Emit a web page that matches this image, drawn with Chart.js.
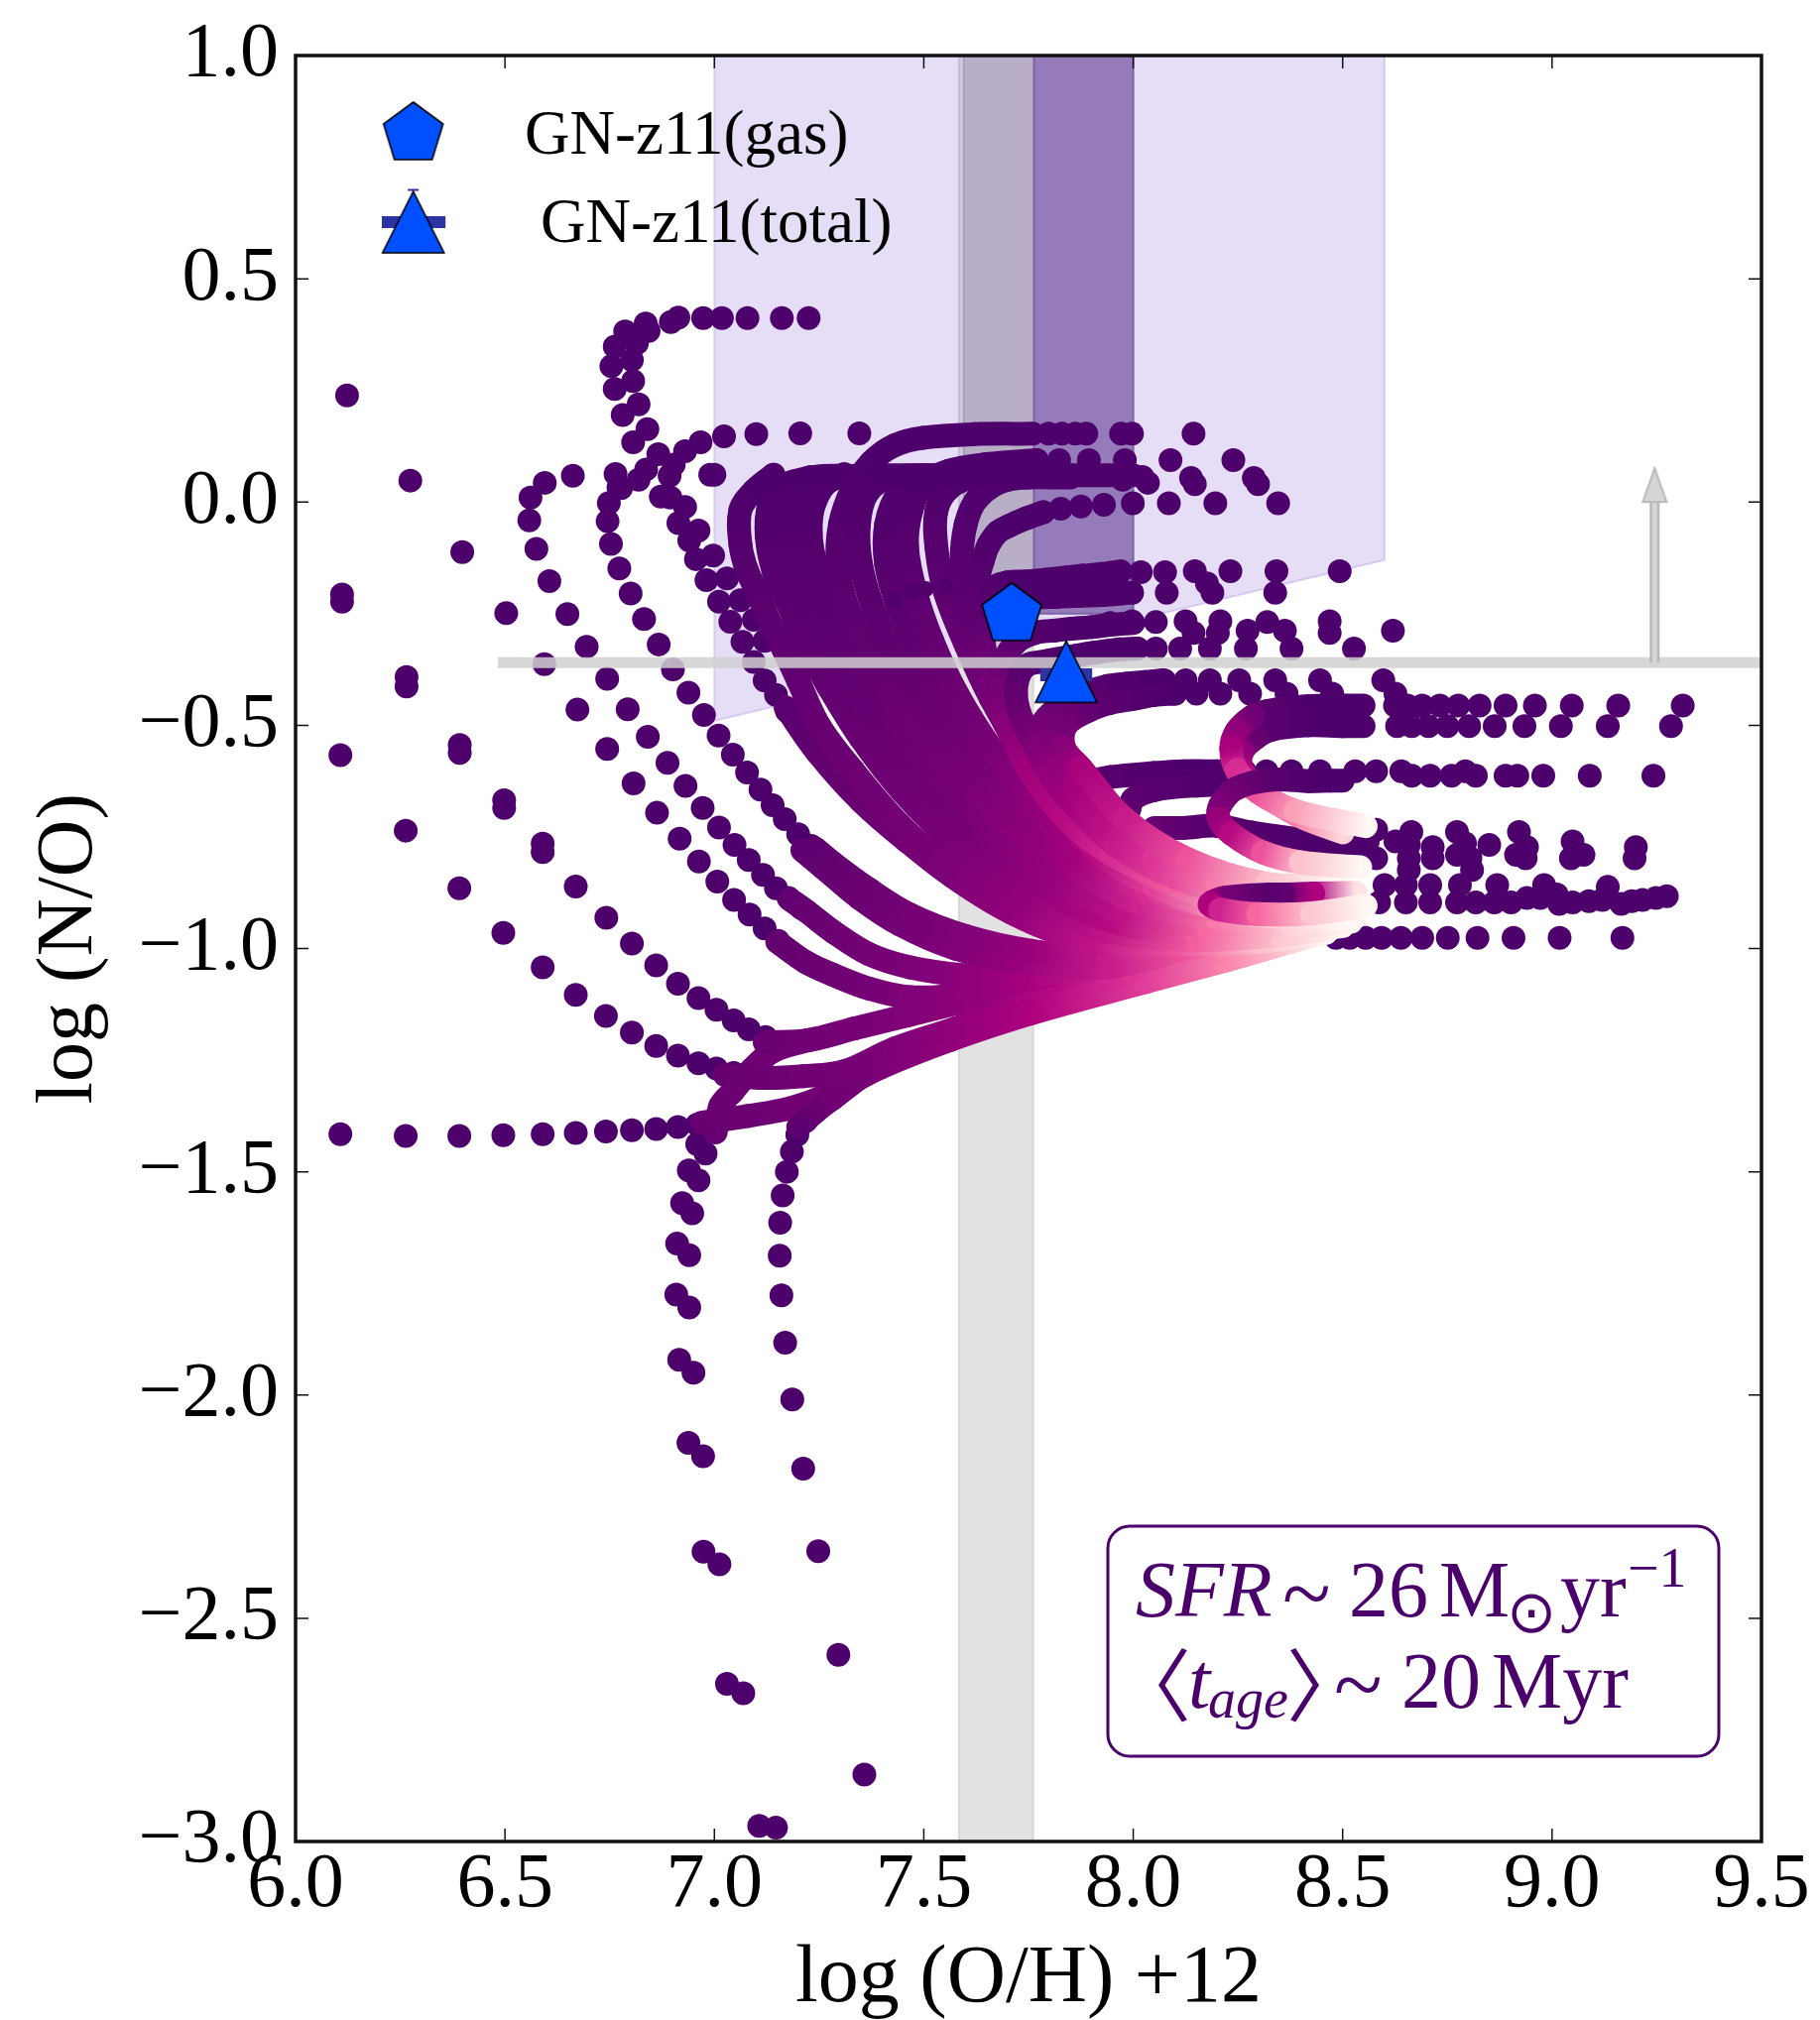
<!DOCTYPE html>
<html>
<head>
<meta charset="utf-8">
<title>log (N/O) vs log (O/H)</title>
<script src="https://cdn.jsdelivr.net/npm/chart.js@4/dist/chart.umd.min.js"></script>
<style>
  html, body { margin: 0; padding: 0; background: #fff; }
  canvas { display: block; }
</style>
</head>
<body>
<canvas id="abundanceChart" width="1835" height="2037"></canvas>
<script>
    // Tick labels
    const xTicks = [6.0, 6.5, 7.0, 7.5, 8.0, 8.5, 9.0, 9.5];
    const yTicks = [-3.0, -2.5, -2.0, -1.5, -1.0, -0.5, 0.0, 0.5, 1.0];

    // Separate model outputs
    const dotX = [
        7.225, 7.161, 7.079, 7.018, 6.973, 6.914, 6.896, 6.843, 6.836, 6.787, 6.815, 6.762, 6.803, 6.754, 6.806, 6.762, 6.819, 6.781, 6.840, 6.806, 6.866, 6.837, 6.819, 6.777,
        6.123, 6.274, 6.398, 6.111, 6.111, 6.503, 6.265, 6.265, 6.107, 6.392, 6.392, 6.263, 6.498, 6.498, 6.590, 6.590,
        6.662, 6.595, 6.561, 6.558, 6.575, 6.606, 6.649, 6.695, 6.744, 6.793, 6.841, 6.888, 6.931, 6.972, 7.011, 7.048, 7.082, 7.116, 7.147, 7.177, 7.207,
        6.594, 6.673, 6.744, 6.807, 6.863, 6.917, 6.963, 7.007, 7.047, 7.084, 7.120, 7.152,
        6.764, 6.771, 6.748, 6.745, 6.753, 6.773, 6.800, 6.832, 6.867, 6.901, 6.938, 6.975, 7.010, 7.044, 7.078, 7.110, 7.139, 7.168, 7.200, 7.231, 7.267,
        7.346, 7.205, 7.100, 7.023, 6.967, 6.930, 6.903, 6.893, 6.872, 6.895, 6.930, 6.914, 6.962, 6.940, 6.997, 6.956, 7.030, 6.981, 7.062, 7.011, 7.094, 7.038, 7.120, 7.067, 7.094, 7.120, 7.147, 7.173,
        6.990, 7.000, 7.141, 7.231, 7.310,
        6.107, 6.263, 6.391, 6.496, 6.590, 6.669, 6.741, 6.803, 6.861, 6.913, 6.959, 7.007,
        6.391, 6.496, 6.590, 6.669, 6.741, 6.803, 6.861, 6.913, 6.962, 7.005, 7.046,
        6.669, 6.742, 6.803, 6.861, 6.913, 6.962, 7.005, 7.046, 7.082, 7.122,
        7.219, 7.198, 7.185, 7.173, 7.163, 7.157, 7.156, 7.160, 7.169, 7.186, 7.212, 7.248, 7.296, 7.358,
        6.959, 6.979, 6.939, 6.962, 6.923, 6.947, 6.911, 6.940, 6.909, 6.940, 6.916, 6.950, 6.938, 6.973, 6.974, 7.012, 7.030, 7.069, 7.107, 7.147,
        8.144, 7.997, 7.971, 7.888, 7.862, 7.830, 7.798,
        8.239, 8.089, 7.980, 7.894, 7.823, 7.769,
        8.288, 8.298, 8.138, 8.147, 8.022, 8.035, 7.975,
        8.346, 8.196, 8.085, 7.999, 7.930, 7.875, 7.827, 7.785,
        8.493, 8.342, 8.232, 8.147, 8.076, 8.018, 8.339, 8.189, 8.176, 8.080, 7.997, 7.926, 7.871,
        8.620, 8.469, 8.469, 8.320, 8.362, 8.208, 8.202, 8.273, 8.125, 8.144, 8.054, 7.997, 7.945,
        8.527, 8.378, 8.269, 8.183, 8.112, 8.054, 8.010,
        8.597, 8.446, 8.339, 8.253, 8.183, 8.125, 8.074,
        8.626, 8.475, 8.366, 8.279, 8.208, 8.151, 8.100,
        9.312, 9.158, 9.047, 8.959, 8.889, 8.827, 8.776, 8.732, 8.690, 8.655, 8.625,
        9.284, 9.133, 9.021, 8.934, 8.863, 8.802, 8.750, 8.705, 8.665, 8.630,
        9.242, 9.090, 8.979, 8.917, 8.889, 8.818, 8.793, 8.760, 8.709, 8.665, 8.640, 8.580, 8.530, 8.446, 8.378, 8.318, 8.266,
        9.200, 9.197, 9.049, 9.075, 9.045, 8.921, 8.940, 8.914, 8.937, 8.850, 8.773, 8.792, 8.773, 8.805, 8.809, 8.664, 8.715, 8.658, 8.715, 8.658, 8.658, 8.626, 8.580, 8.580,
        9.274, 9.248, 9.216, 9.190, 9.165, 9.133, 9.120, 9.088, 9.049, 9.017, 9.011, 8.981, 8.972, 8.940, 8.902, 8.869, 8.862, 8.818, 8.780, 8.773, 8.709, 8.709, 8.651, 8.651, 8.600, 8.587,
        9.168, 9.018, 8.908, 8.822, 8.751, 8.690, 8.639, 8.593, 8.555, 8.517, 8.484
    ];
    const dotY = [
        0.412, 0.412, 0.412, 0.412, 0.412, 0.413, 0.403, 0.383, 0.400, 0.382, 0.356, 0.348, 0.318, 0.304, 0.271, 0.253, 0.219, 0.195, 0.163, 0.134, 0.107, 0.073, 0.050, 0.031,
        0.239, 0.048, -0.112, -0.207, -0.223, -0.249, -0.392, -0.413, -0.567, -0.544, -0.562, -0.736, -0.668, -0.685, -0.765, -0.784,
        0.059, 0.043, 0.010, -0.041, -0.105, -0.177, -0.251, -0.324, -0.396, -0.464, -0.526, -0.584, -0.636, -0.685, -0.729, -0.768, -0.802, -0.835, -0.865, -0.887, -0.909,
        -0.363, -0.465, -0.553, -0.630, -0.696, -0.754, -0.805, -0.850, -0.891, -0.924, -0.955, -0.983,
        0.063, 0.033, -0.002, -0.043, -0.094, -0.149, -0.205, -0.262, -0.319, -0.375, -0.427, -0.477, -0.523, -0.566, -0.606, -0.644, -0.679, -0.710, -0.744, -0.770, -0.802,
        0.154, 0.154, 0.152, 0.147, 0.134, 0.114, 0.084, 0.059, 0.012, 0.010, -0.011, -0.047, -0.064, -0.086, -0.120, -0.128, -0.171, -0.175, -0.220, -0.223, -0.264, -0.268, -0.311, -0.313, -0.358, -0.400, -0.432, -0.468,
        0.061, 0.061, 0.061, 0.056, 0.063,
        -1.416, -1.420, -1.420, -1.418, -1.416, -1.413, -1.410, -1.407, -1.404, -1.400, -1.394, -1.390,
        -0.865, -0.965, -1.042, -1.104, -1.151, -1.188, -1.218, -1.240, -1.257, -1.269, -1.279,
        -0.861, -0.931, -0.989, -1.038, -1.079, -1.111, -1.137, -1.161, -1.181, -1.198,
        -1.386, -1.417, -1.455, -1.500, -1.553, -1.614, -1.688, -1.777, -1.883, -2.010, -2.165, -2.350, -2.582, -2.850,
        -1.438, -1.459, -1.497, -1.519, -1.570, -1.593, -1.661, -1.687, -1.775, -1.804, -1.921, -1.950, -2.107, -2.137, -2.351, -2.379, -2.647, -2.668, -2.965, -2.969,
        0.153, 0.153, 0.153, 0.153, 0.153, 0.153, 0.153,
        0.094, 0.094, 0.094, 0.094, 0.094, 0.094,
        0.054, 0.040, 0.054, 0.040, 0.056, 0.043, 0.050,
        -0.003, -0.003, -0.003, -0.003, -0.006, -0.010, -0.015, -0.023,
        -0.155, -0.155, -0.155, -0.155, -0.157, -0.157, -0.203, -0.203, -0.182, -0.203, -0.203, -0.208, -0.210,
        -0.288, -0.267, -0.293, -0.269, -0.288, -0.267, -0.293, -0.288, -0.267, -0.293, -0.269, -0.267, -0.271,
        -0.328, -0.328, -0.328, -0.328, -0.328, -0.328, -0.328,
        -0.399, -0.399, -0.399, -0.399, -0.399, -0.399, -0.399,
        -0.429, -0.429, -0.429, -0.429, -0.429, -0.429, -0.429,
        -0.456, -0.456, -0.456, -0.456, -0.456, -0.456, -0.456, -0.456, -0.456, -0.456, -0.456,
        -0.502, -0.502, -0.502, -0.502, -0.502, -0.502, -0.502, -0.502, -0.502, -0.502,
        -0.613, -0.613, -0.613, -0.613, -0.613, -0.613, -0.603, -0.613, -0.613, -0.613, -0.603, -0.603, -0.603, -0.603, -0.603, -0.603, -0.603,
        -0.773, -0.798, -0.760, -0.790, -0.798, -0.739, -0.773, -0.790, -0.798, -0.768, -0.739, -0.764, -0.790, -0.798, -0.824, -0.739, -0.773, -0.768, -0.798, -0.798, -0.824, -0.760, -0.734, -0.798,
        -0.883, -0.887, -0.891, -0.894, -0.900, -0.862, -0.891, -0.894, -0.897, -0.900, -0.879, -0.858, -0.887, -0.887, -0.897, -0.858, -0.897, -0.897, -0.858, -0.897, -0.858, -0.897, -0.858, -0.897, -0.858, -0.897,
        -0.976, -0.976, -0.976, -0.976, -0.976, -0.976, -0.976, -0.976, -0.976, -0.976, -0.976
    ];

    // Dense stretches of the tracks, where the outputs run together. Listed bottom layer first.
    // trackAge is the position on the colour ramp, 0 is oldest and dark, 1 is the pale end
    const trackX = [
        [6.97, 7.08, 7.183, 7.273, 7.394, 7.563, 7.757, 8.03, 8.22, 8.375, 8.465],
        [7.2, 7.243, 7.285, 7.36],
        [7.003, 7.014, 7.044, 7.09, 7.14, 7.225],
        [7.025, 7.116, 7.213, 7.31, 7.43, 7.575, 7.757, 8.0, 8.22, 8.4, 8.5],
        [7.12, 7.225, 7.334, 7.46, 7.611, 7.817, 8.0, 8.2, 8.4, 8.52],
        [7.15, 7.219, 7.286, 7.37, 7.467, 7.612, 7.8, 8.0, 8.2, 8.4, 8.52],
        [7.18, 7.219, 7.286, 7.37, 7.467, 7.6, 7.745, 7.95, 8.15, 8.35, 8.5],
        [7.21, 7.261, 7.346, 7.442, 7.575, 7.733, 7.94, 8.15, 8.35, 8.5],
        [7.24, 7.285, 7.37, 7.467, 7.6, 7.757, 7.94, 8.15, 8.35, 8.5],
        [7.17, 7.245, 7.35, 7.46, 7.57, 7.71, 7.9, 8.1, 8.3, 8.47],
        [7.141, 7.094, 7.062, 7.062, 7.078, 7.104, 7.136, 7.168, 7.2, 7.25, 7.33, 7.44, 7.56, 7.71, 7.9, 8.1, 8.3, 8.46],
        [7.231, 7.16, 7.13, 7.125, 7.141, 7.173, 7.215, 7.27, 7.35, 7.45, 7.58, 7.74, 7.93, 8.15, 8.35, 8.5],
        [7.31, 7.22, 7.185, 7.175, 7.19, 7.225, 7.28, 7.36, 7.46, 7.6, 7.76, 7.95, 8.15, 8.35, 8.52],
        [7.38, 7.28, 7.24, 7.23, 7.245, 7.28, 7.335, 7.41, 7.51, 7.64, 7.8, 7.98, 8.18, 8.38, 8.53],
        [7.76, 7.62, 7.5, 7.43, 7.375, 7.33, 7.3, 7.295, 7.32, 7.38, 7.48, 7.6, 7.75, 7.95, 8.15, 8.35, 8.5],
        [7.55, 7.42, 7.365, 7.345, 7.35, 7.38, 7.43, 7.5, 7.59, 7.7, 7.84, 8.02, 8.2, 8.4, 8.53],
        [7.5, 7.44, 7.41, 7.41, 7.44, 7.49, 7.55, 7.64, 7.74, 7.87, 8.04, 8.22, 8.42, 8.54],
        [7.77, 7.65, 7.56, 7.5, 7.47, 7.46, 7.48, 7.52, 7.58, 7.66, 7.76, 7.88, 8.03, 8.25, 8.5],
        [7.75, 7.62, 7.56, 7.53, 7.53, 7.55, 7.6, 7.66, 7.73, 7.82, 7.93, 8.08, 8.3, 8.5],
        [7.85, 7.7, 7.63, 7.6, 7.59, 7.6, 7.64, 7.7, 7.77, 7.86, 7.97, 8.12, 8.32, 8.52],
        [8.0, 7.8, 7.6, 7.4],
        [7.785, 7.746, 7.7, 7.676, 7.654, 7.641, 7.63, 7.62, 7.63, 7.67, 7.73, 7.81, 7.91, 8.05, 8.25, 8.5],
        [7.97, 7.926, 7.88, 7.84, 7.79, 7.74, 7.7, 7.663, 7.645, 7.645, 7.67, 7.73, 7.81, 7.91, 8.05, 8.25, 8.5],
        [7.997, 7.926, 7.82, 7.75, 7.7],
        [8.0, 7.945, 7.9, 7.85, 7.81, 7.766, 7.72, 7.69, 7.68, 7.7, 7.75, 7.84, 7.95, 8.1, 8.3, 8.52],
        [8.01, 7.965, 7.91, 7.86, 7.8, 7.74, 7.72, 7.74, 7.79, 7.86, 7.96, 8.1, 8.3, 8.5],
        [8.24, 8.2, 8.12, 8.05, 7.945, 7.9],
        [8.32, 8.15, 8.05, 8.0, 7.99],
        [8.56, 8.4, 8.28, 8.2, 8.12, 8.05],
        [8.56, 8.42, 8.32, 8.24],
        [8.07, 8.03, 7.984, 7.939, 7.88, 7.82, 7.78, 7.77, 7.8, 7.86, 7.96, 8.1, 8.3, 8.45],
        [7.95, 7.83, 7.8, 7.82, 7.86, 7.93, 8.05, 8.2, 8.4, 8.5],
        [8.1, 8.05, 8.0, 7.945, 7.894, 7.84, 7.835, 7.875, 7.98, 8.13, 8.32, 8.47],
        [8.55, 8.5, 8.42, 8.33, 8.29, 8.26, 8.26, 8.3, 8.39, 8.5],
        [8.55, 8.5, 8.42, 8.32, 8.285, 8.247, 8.234, 8.247, 8.298, 8.388, 8.555],
        [8.5, 8.47, 8.42, 8.33, 8.247, 8.208, 8.204, 8.234, 8.31, 8.4, 8.542],
        [8.53, 8.43, 8.36, 8.324, 8.221, 8.183, 8.208, 8.298, 8.427, 8.555]
    ];
    const trackY = [
        [-1.39, -1.375, -1.357, -1.327, -1.268, -1.205, -1.145, -1.075, -1.027, -0.985, -0.96],
        [-1.4, -1.364, -1.334, -1.28],
        [-1.412, -1.353, -1.32, -1.27, -1.23, -1.205],
        [-1.283, -1.29, -1.286, -1.275, -1.224, -1.179, -1.12, -1.05, -1.0, -0.96, -0.94],
        [-1.21, -1.205, -1.179, -1.15, -1.115, -1.07, -1.02, -0.98, -0.95, -0.93],
        [-0.985, -1.031, -1.06, -1.09, -1.109, -1.1, -1.06, -1.01, -0.975, -0.945, -0.925],
        [-0.89, -0.916, -0.964, -1.013, -1.042, -1.06, -1.064, -1.03, -0.99, -0.96, -0.94],
        [-0.78, -0.82, -0.887, -0.946, -1.0, -1.03, -1.042, -0.995, -0.965, -0.94],
        [-0.775, -0.81, -0.868, -0.924, -0.972, -1.005, -1.02, -0.985, -0.96, -0.935],
        [-0.46, -0.56, -0.67, -0.76, -0.84, -0.92, -0.985, -0.985, -0.96, -0.935],
        [0.061, 0.025, -0.018, -0.094, -0.154, -0.205, -0.277, -0.336, -0.4, -0.5, -0.6, -0.72, -0.82, -0.92, -0.985, -0.99, -0.985, -0.965],
        [0.056, 0.035, -0.009, -0.077, -0.154, -0.222, -0.315, -0.41, -0.53, -0.65, -0.77, -0.88, -0.96, -0.98, -0.97, -0.95],
        [0.06, 0.05, 0.0, -0.07, -0.15, -0.24, -0.35, -0.47, -0.59, -0.73, -0.85, -0.94, -0.965, -0.955, -0.94],
        [0.06, 0.05, 0.0, -0.07, -0.15, -0.24, -0.35, -0.46, -0.58, -0.71, -0.83, -0.92, -0.95, -0.945, -0.93],
        [0.153, 0.152, 0.144, 0.127, 0.09, 0.03, -0.05, -0.14, -0.24, -0.36, -0.5, -0.63, -0.75, -0.85, -0.9, -0.92, -0.925],
        [0.06, 0.055, 0.02, -0.05, -0.14, -0.24, -0.35, -0.46, -0.58, -0.7, -0.81, -0.9, -0.93, -0.93, -0.915],
        [0.06, 0.02, -0.05, -0.14, -0.24, -0.35, -0.46, -0.58, -0.69, -0.79, -0.88, -0.915, -0.915, -0.9],
        [0.094, 0.085, 0.07, 0.04, -0.02, -0.1, -0.2, -0.31, -0.43, -0.55, -0.67, -0.78, -0.865, -0.915, -0.925],
        [0.055, 0.055, 0.03, -0.02, -0.1, -0.2, -0.32, -0.44, -0.55, -0.66, -0.77, -0.86, -0.91, -0.92],
        [0.055, 0.05, 0.01, -0.05, -0.14, -0.24, -0.35, -0.46, -0.57, -0.68, -0.78, -0.86, -0.9, -0.91],
        [0.06, 0.06, 0.06, 0.06],
        [-0.023, -0.036, -0.055, -0.068, -0.097, -0.131, -0.17, -0.25, -0.35, -0.45, -0.56, -0.67, -0.78, -0.86, -0.92, -0.935],
        [-0.155, -0.161, -0.165, -0.169, -0.174, -0.178, -0.18, -0.195, -0.25, -0.33, -0.42, -0.53, -0.64, -0.75, -0.84, -0.9, -0.92],
        [-0.203, -0.208, -0.212, -0.215, -0.22],
        [-0.271, -0.275, -0.28, -0.284, -0.288, -0.293, -0.315, -0.36, -0.42, -0.5, -0.6, -0.71, -0.79, -0.85, -0.88, -0.89],
        [-0.328, -0.33, -0.337, -0.345, -0.355, -0.37, -0.43, -0.5, -0.58, -0.67, -0.76, -0.84, -0.885, -0.895],
        [-0.603, -0.603, -0.603, -0.607, -0.616, -0.625],
        [-0.63, -0.635, -0.645, -0.665, -0.69],
        [-0.76, -0.755, -0.74, -0.725, -0.73, -0.73],
        [-0.795, -0.79, -0.77, -0.74],
        [-0.399, -0.403, -0.407, -0.412, -0.43, -0.46, -0.5, -0.55, -0.61, -0.68, -0.77, -0.84, -0.885, -0.89],
        [-0.445, -0.47, -0.53, -0.59, -0.64, -0.72, -0.8, -0.85, -0.87, -0.87],
        [-0.429, -0.432, -0.441, -0.45, -0.467, -0.5, -0.55, -0.595, -0.71, -0.8, -0.855, -0.855],
        [-0.502, -0.502, -0.5, -0.51, -0.53, -0.56, -0.6, -0.645, -0.7, -0.74],
        [-0.456, -0.456, -0.457, -0.468, -0.48, -0.513, -0.552, -0.6, -0.65, -0.692, -0.726],
        [-0.624, -0.624, -0.625, -0.622, -0.641, -0.679, -0.709, -0.743, -0.785, -0.807, -0.818],
        [-0.875, -0.877, -0.879, -0.879, -0.886, -0.9, -0.913, -0.923, -0.921, -0.904]
    ];
    const trackAge = [
        [0.2, 0.24, 0.28, 0.31, 0.36, 0.46, 0.6, 0.74, 0.85, 0.94, 1],
        [0.12, 0.2, 0.28, 0.33],
        [0.2, 0.22, 0.24, 0.26, 0.28, 0.3],
        [0.2, 0.24, 0.28, 0.31, 0.37, 0.46, 0.6, 0.72, 0.85, 0.96, 1],
        [0.22, 0.28, 0.32, 0.38, 0.47, 0.62, 0.72, 0.83, 0.96, 1],
        [0.18, 0.22, 0.26, 0.31, 0.38, 0.46, 0.6, 0.72, 0.83, 0.96, 1],
        [0.17, 0.2, 0.25, 0.3, 0.36, 0.44, 0.56, 0.68, 0.8, 0.92, 1],
        [0.15, 0.18, 0.24, 0.3, 0.38, 0.5, 0.66, 0.8, 0.92, 1],
        [0.15, 0.18, 0.24, 0.3, 0.38, 0.5, 0.66, 0.8, 0.92, 1],
        [0.12, 0.16, 0.22, 0.28, 0.36, 0.46, 0.64, 0.78, 0.92, 1],
        [0, 0, 0.02, 0.05, 0.07, 0.1, 0.12, 0.15, 0.17, 0.2, 0.25, 0.3, 0.36, 0.46, 0.64, 0.78, 0.92, 1],
        [0, 0, 0.02, 0.04, 0.07, 0.1, 0.13, 0.17, 0.22, 0.27, 0.35, 0.46, 0.64, 0.8, 0.93, 1],
        [0, 0, 0.02, 0.04, 0.07, 0.1, 0.14, 0.19, 0.25, 0.33, 0.45, 0.62, 0.8, 0.93, 1],
        [0, 0, 0.02, 0.04, 0.07, 0.1, 0.15, 0.2, 0.27, 0.36, 0.48, 0.64, 0.82, 0.95, 1],
        [0, 0, 0, 0, 0, 0.02, 0.05, 0.08, 0.12, 0.18, 0.26, 0.34, 0.46, 0.62, 0.8, 0.93, 1],
        [0, 0, 0.02, 0.04, 0.07, 0.11, 0.16, 0.22, 0.3, 0.4, 0.52, 0.68, 0.84, 0.96, 1],
        [0, 0.02, 0.04, 0.07, 0.11, 0.17, 0.23, 0.32, 0.42, 0.54, 0.7, 0.84, 0.96, 1],
        [0, 0, 0, 0, 0.03, 0.07, 0.12, 0.18, 0.25, 0.34, 0.45, 0.56, 0.7, 0.88, 1],
        [0, 0, 0.02, 0.04, 0.08, 0.13, 0.19, 0.27, 0.36, 0.47, 0.58, 0.72, 0.9, 1],
        [0, 0, 0.02, 0.05, 0.08, 0.13, 0.2, 0.3, 0.4, 0.52, 0.62, 0.76, 0.92, 1],
        [0, 0, 0, 0],
        [0, 0, 0, 0, 0.02, 0.04, 0.07, 0.14, 0.22, 0.32, 0.42, 0.52, 0.62, 0.74, 0.9, 1],
        [0, 0, 0, 0, 0, 0, 0, 0.05, 0.12, 0.22, 0.34, 0.46, 0.56, 0.66, 0.76, 0.9, 1],
        [0, 0, 0, 0, 0.02],
        [0, 0, 0, 0, 0.02, 0.05, 0.12, 0.2, 0.3, 0.42, 0.54, 0.62, 0.7, 0.8, 0.94, 1],
        [0, 0, 0, 0, 0.02, 0.06, 0.16, 0.28, 0.4, 0.5, 0.6, 0.74, 0.92, 1],
        [0, 0, 0, 0.02, 0.06, 0.1],
        [0.02, 0.04, 0.08, 0.12, 0.18],
        [0, 0, 0.02, 0.05, 0.12, 0.2],
        [0, 0, 0.04, 0.1],
        [0, 0, 0.03, 0.05, 0.1, 0.18, 0.28, 0.38, 0.48, 0.56, 0.66, 0.76, 0.93, 1],
        [0.05, 0.25, 0.36, 0.46, 0.55, 0.63, 0.72, 0.84, 0.96, 1],
        [0, 0.02, 0.05, 0.1, 0.17, 0.28, 0.42, 0.58, 0.66, 0.78, 0.92, 1],
        [0, 0, 0, 0.1, 0.2, 0.45, 0.6, 0.72, 0.84, 0.95],
        [0, 0, 0, 0.1, 0.28, 0.46, 0.58, 0.7, 0.78, 0.88, 1],
        [0, 0, 0, 0.1, 0.25, 0.35, 0.5, 0.62, 0.78, 0.92, 1],
        [0.97, 0.6, 0.15, 0.1, 0.3, 0.6, 0.68, 0.82, 0.93, 1]
    ];

    // Dark points showing through the dense part
    const showThroughX = [7.43, 7.47, 7.505, 7.55];
    const showThroughY = [-0.22, -0.2, -0.195, -0.19];

    // Shaded regions and limits
    const greyBandX = [7.584, 7.584, 7.761, 7.761];
    const greyBandY = [1.0, -3.0, -3.0, 1.0];
    const purpleBoxX = [7.0, 7.0, 8.6, 8.6];
    const purpleBoxY = [1.0, -0.49, -0.13, 1.0];
    const greyTopX = [7.596, 7.596, 7.763, 7.763];
    const greyTopY = [1.0, -0.25, -0.25, 1.0];
    const purpleTopX = [7.763, 7.763, 8.0, 8.0];
    const purpleTopY = [1.0, -0.25, -0.25, 1.0];
    const limitX = [6.483, 9.5];
    const limitY = [-0.36, -0.36];
    const arrowX = [9.245, 9.245];
    const arrowY = [-0.36, 0.0];
    const arrowTip = { x: 9.245, y: 0.038 };

    // GN-z11 points and the two in-plot legend samples
    const gasPoint = { x: 7.71, y: -0.25 };
    const totalPoint = { x: 7.84, y: -0.38 };
    const totalBarX = [7.778, 7.902];
    const totalBarY = [-0.387, -0.387];
    const gasKey = { x: 6.281, y: 0.827 };
    const totalKey = { x: 6.281, y: 0.627 };
    const totalKeyBarX = [6.206, 6.358];
    const totalKeyBarY = [0.627, 0.627];
    const totalKeyCapX = [6.268, 6.294];
    const totalKeyCapY = [0.699, 0.699];

    const rampStops = [
        [0, [77, 0, 107]], [0.35, [122, 1, 119]], [0.6, [174, 1, 126]], [0.72, [221, 52, 151]],
        [0.82, [247, 104, 161]], [0.9, [251, 180, 192]], [1, [255, 247, 243]]
    ];
    function shade(age) {
        for (let i = 1; i < rampStops.length; i++) {
            if (age <= rampStops[i][0]) {
                const a = rampStops[i - 1], b = rampStops[i];
                const t = (age - a[0]) / (b[0] - a[0]);
                const c = a[1].map((v, k) => Math.round(v + (b[1][k] - v) * t));
                return 'rgb(' + c.join(',') + ')';
            }
        }
        return 'rgb(255,247,243)';
    }

    // Marker sprites for pointStyle
    function sprite(width, height, points, fill, edge, lineWidth) {
        const c = document.createElement('canvas');
        c.width = width;
        c.height = height;
        const g = c.getContext('2d');
        g.beginPath();
        points.forEach((p, i) => i ? g.lineTo(p[0], p[1]) : g.moveTo(p[0], p[1]));
        g.closePath();
        g.fillStyle = fill;
        g.fill();
        g.strokeStyle = edge;
        g.lineWidth = lineWidth;
        g.lineJoin = 'miter';
        g.stroke();
        return c;
    }
    const pentagon = sprite(68, 68, [[34, 3], [64, 25], [53, 61], [15, 61], [4, 25]], '#0050ff', '#000', 1.6);
    const triangle = sprite(70, 70, [[35, 4], [66, 66], [4, 66]], '#0050ff', '#000', 1.6);
    const arrowHead = sprite(28, 38, [[14, 2], [26, 36], [2, 36]], '#d6d6d6', '#b8b8b8', 2);

    function pairs(xs, ys) {
        return xs.map((x, i) => ({ x: x, y: ys[i] }));
    }
    function region(xs, ys, color, edge) {
        return {
            data: pairs(xs, ys), showLine: true, pointRadius: 0, borderWidth: edge ? 2 : 0,
            borderColor: edge || color, backgroundColor: color, fill: { target: { value: 1 } }
        };
    }
    function stroke(xs, ys, color, width) {
        return { data: pairs(xs, ys), showLine: true, pointRadius: 0, borderWidth: width, borderColor: color, borderCapStyle: 'butt', fill: false };
    }
    function marker(point, style) {
        return { data: [point], pointStyle: style, pointRadius: 30, showLine: false };
    }

    const trackSets = trackX.map((xs, n) => ({
        data: pairs(xs, trackY[n]),
        showLine: true,
        pointRadius: 0,
        borderWidth: 24,
        tension: 0.35,
        borderCapStyle: 'round',
        borderJoinStyle: 'round',
        borderColor: shade(trackAge[n][0]),
        fill: false,
        segment: {
            borderColor: function(c) {
                const g = c.chart.ctx.createLinearGradient(c.p0.x, c.p0.y, c.p1.x, c.p1.y);
                g.addColorStop(0, shade(trackAge[n][c.p0DataIndex]));
                g.addColorStop(1, shade(trackAge[n][c.p1DataIndex]));
                return g;
            }
        }
    }));

    // Listed in paint order, bottom first
    const layers = [
        region(greyBandX, greyBandY, '#e2e2e2', '#d6d6d6'),
        region(purpleBoxX, purpleBoxY, 'rgba(140, 100, 215, 0.22)', 'rgba(140, 100, 215, 0.25)'),
        region(greyTopX, greyTopY, '#b8aec8', '#a9a0ba'),
        region(purpleTopX, purpleTopY, '#957bb9', '#7d62a6'),
        { data: pairs(dotX, dotY), pointRadius: 12, pointBackgroundColor: '#4d006b', pointBorderWidth: 0, showLine: false },
        ...trackSets,
        { data: pairs(showThroughX, showThroughY), pointRadius: 8, pointBackgroundColor: '#50006c', pointBorderWidth: 0, showLine: false },
        stroke(limitX, limitY, 'rgba(208, 208, 208, 0.85)', 11),
        stroke(arrowX, arrowY, '#b8b8b8', 10),
        stroke(arrowX, arrowY, '#d6d6d6', 5),
        marker(arrowTip, arrowHead),
        stroke(totalBarX, totalBarY, '#2c33a5', 13),
        marker(totalPoint, triangle),
        marker(gasPoint, pentagon),
        stroke(totalKeyBarX, totalKeyBarY, '#2c33a5', 12),
        stroke(totalKeyCapX, totalKeyCapY, '#2c33a5', 2),
        marker(totalKey, triangle),
        marker(gasKey, pentagon)
    ];
    layers.forEach((d, i) => { d.order = layers.length - i; });

    const serif = '"Liberation Serif", "Times New Roman", serif';

    // Spines and inward ticks on all four sides
    const framePlugin = {
        id: 'frame',
        afterDatasetsDraw(chart) {
            const g = chart.ctx, a = chart.chartArea;
            g.save();
            g.strokeStyle = '#111';
            g.lineWidth = 1.5;
            g.beginPath();
            chart.scales.x.ticks.forEach(t => {
                const p = chart.scales.x.getPixelForValue(t.value);
                g.moveTo(p, a.top); g.lineTo(p, a.top + 13);
                g.moveTo(p, a.bottom); g.lineTo(p, a.bottom - 13);
            });
            chart.scales.y.ticks.forEach(t => {
                const p = chart.scales.y.getPixelForValue(t.value);
                g.moveTo(a.left, p); g.lineTo(a.left + 13, p);
                g.moveTo(a.right, p); g.lineTo(a.right - 13, p);
            });
            g.stroke();
            g.lineWidth = 3.5;
            g.strokeRect(a.left, a.top, a.right - a.left, a.bottom - a.top);
            g.restore();
        }
    };

    // Legend text and the SFR box
    function label(g, text, x, y, size, style, family) {
        g.font = (style ? style + ' ' : '') + size + 'px ' + (family || serif);
        g.fillText(text, x, y);
    }
    const cjk = '"Noto Sans CJK JP"';
    const notePlugin = {
        id: 'notes',
        afterDraw(chart) {
            const g = chart.ctx;
            g.save();
            g.textAlign = 'left';
            g.textBaseline = 'alphabetic';
            g.fillStyle = '#000';
            label(g, 'GN-z11(gas)', 529, 155, 63);
            label(g, 'GN-z11(total)', 545, 244, 63);

            g.strokeStyle = '#4a006a';
            g.lineWidth = 3;
            g.beginPath();
            g.roundRect(1117, 1539, 616, 232, 22);
            g.stroke();

            g.fillStyle = '#4a006a';
            label(g, 'SFR', 1145, 1630, 80, 'italic');
            label(g, '~', 1293, 1637, 90);
            label(g, '26', 1360, 1630, 80);
            label(g, 'M', 1451, 1630, 80);
            label(g, '\u2299', 1519, 1646, 60, '', '"DejaVu Sans"');
            label(g, 'yr', 1573, 1630, 80);
            label(g, '\u22121', 1641, 1600, 56);
            label(g, '\u3008', 1121, 1729, 80, '', cjk);
            label(g, 't', 1198, 1722, 80, 'italic');
            label(g, 'age', 1218, 1732, 56, 'italic');
            label(g, '\u3009', 1297, 1729, 80, '', cjk);
            label(g, '~', 1345, 1729, 90);
            label(g, '20', 1413, 1722, 80);
            label(g, 'Myr', 1504, 1722, 80);
            g.restore();
        }
    };

    new Chart(document.getElementById('abundanceChart').getContext('2d'), {
        type: 'scatter',
        data: { datasets: layers },
        plugins: [framePlugin, notePlugin],
        options: {
            responsive: false,
            animation: false,
            events: [],
            layout: { padding: { top: 55, right: 59, bottom: 0, left: 0 } },
            plugins: {
                legend: { display: false },
                tooltip: { enabled: false },
                filler: { drawTime: 'beforeDatasetDraw', propagate: false }
            },
            scales: {
                x: {
                    type: 'linear',
                    min: 6.0,
                    max: 9.5,
                    afterBuildTicks: s => { s.ticks = xTicks.map(v => ({ value: v })); },
                    afterFit: s => { s.height = 180; },
                    grid: { display: false, drawTicks: false },
                    border: { display: false },
                    ticks: {
                        autoSkip: false,
                        maxRotation: 0,
                        padding: 6,
                        color: '#000',
                        font: { family: serif, size: 78, lineHeight: 1 },
                        callback: v => v.toFixed(1)
                    },
                    title: {
                        display: true,
                        text: 'log (O/H) +12',
                        color: '#000',
                        padding: 0,
                        font: { family: serif, size: 82, lineHeight: 1 }
                    }
                },
                y: {
                    type: 'linear',
                    min: -3.0,
                    max: 1.0,
                    afterBuildTicks: s => { s.ticks = yTicks.map(v => ({ value: v })); },
                    afterFit: s => { s.width = 298; },
                    grid: { display: false, drawTicks: false },
                    border: { display: false },
                    ticks: {
                        autoSkip: false,
                        padding: 17,
                        color: '#000',
                        font: { family: serif, size: 78, lineHeight: 1 },
                        callback: v => v.toFixed(1).replace('-', '\u2212')
                    },
                    title: {
                        display: true,
                        text: 'log (N/O)',
                        color: '#000',
                        padding: { top: 31, bottom: 0 },
                        font: { family: serif, size: 80, lineHeight: 1 }
                    }
                }
            }
        }
    });
</script>
</body>
</html>
